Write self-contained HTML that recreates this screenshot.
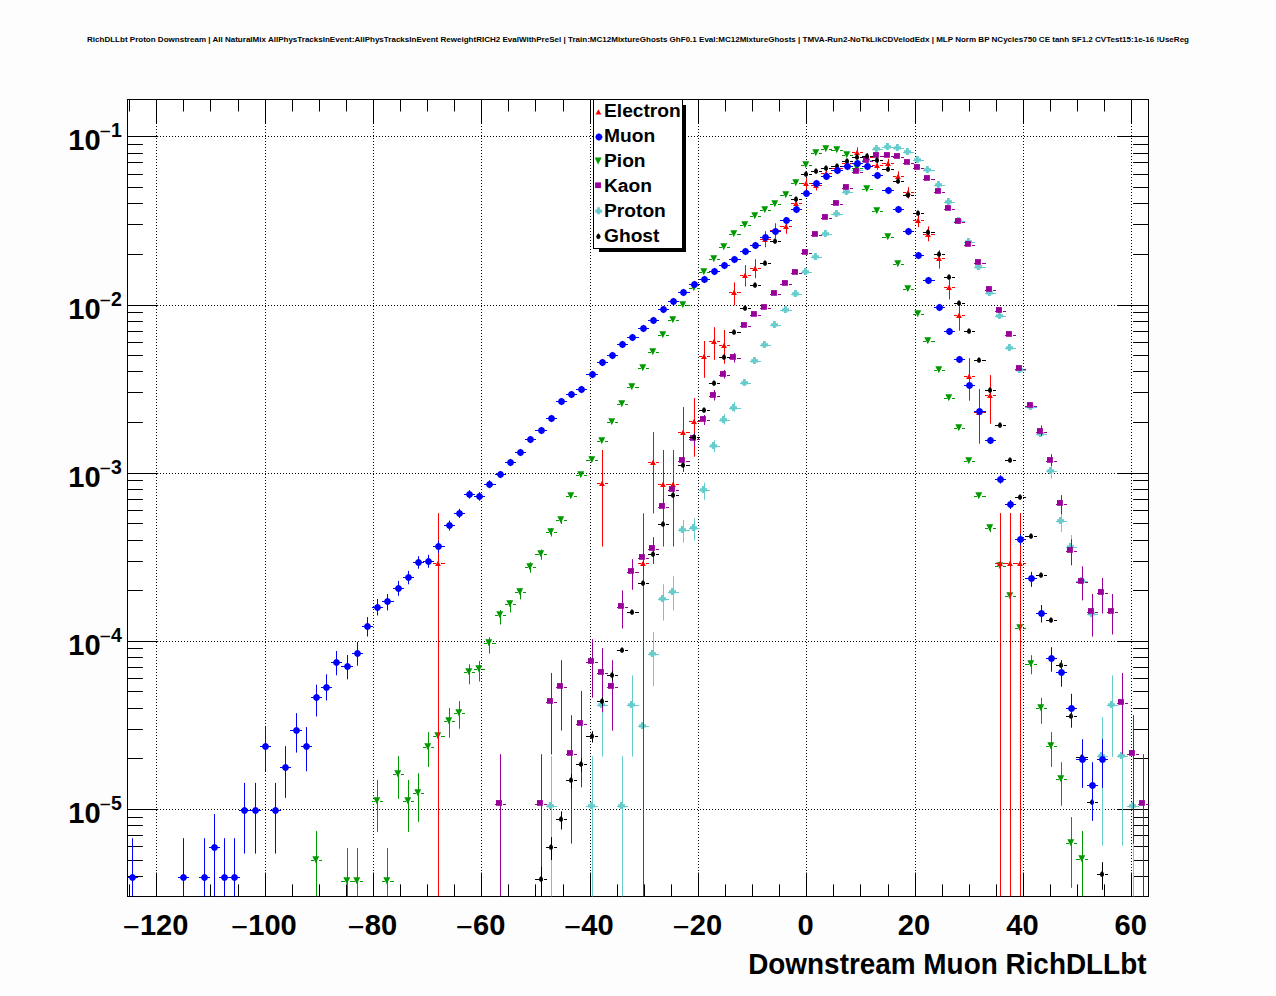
<!DOCTYPE html><html><head><meta charset="utf-8"><title>RichDLLbt Proton Downstream</title><style>html,body{margin:0;padding:0;background:#fff;}svg{display:block;}text{font-family:'Liberation Sans', Arial, Helvetica, sans-serif;font-weight:bold;fill:#000;}</style></head><body>
<svg width="1276" height="996" viewBox="0 0 1276 996">
<rect x="0" y="0" width="1276" height="996" fill="#fdfdfd"/>
<rect x="127.6" y="99.6" width="1020.8" height="796.8" fill="#fff"/>
<text x="638" y="42.3" font-size="7.9" text-anchor="middle" textLength="1102" lengthAdjust="spacingAndGlyphs">RichDLLbt Proton Downstream | All NaturalMix AllPhysTracksInEvent:AllPhysTracksInEvent ReweightRICH2 EvalWithPreSel | Train:MC12MixtureGhosts GhF0.1 Eval:MC12MixtureGhosts | TMVA-Run2-NoTkLikCDVelodEdx | MLP Norm BP NCycles750 CE tanh SF1.2 CVTest15:1e-16 !UseReg</text>
<path d="M156.5 99V896M265.5 99V896M373.5 99V896M481.5 99V896M590.5 99V896M698.5 99V896M806.5 99V896M915.5 99V896M1023.5 99V896M1131.5 99V896M127 809.5H1148M127 641.5H1148M127 473.5H1148M127 305.5H1148M127 136.5H1148" stroke="#000" stroke-width="1" stroke-dasharray="1 2" fill="none"/>
<path d="M129.5 896.4V884.4M129.5 99.6V111.5M156.5 896.4V872.5M156.5 99.6V123.5M183.5 896.4V884.4M183.5 99.6V111.5M210.5 896.4V884.4M210.5 99.6V111.5M238.5 896.4V884.4M238.5 99.6V111.5M265.5 896.4V872.5M265.5 99.6V123.5M292.5 896.4V884.4M292.5 99.6V111.5M319.5 896.4V884.4M319.5 99.6V111.5M346.5 896.4V884.4M346.5 99.6V111.5M373.5 896.4V872.5M373.5 99.6V123.5M400.5 896.4V884.4M400.5 99.6V111.5M427.5 896.4V884.4M427.5 99.6V111.5M454.5 896.4V884.4M454.5 99.6V111.5M481.5 896.4V872.5M481.5 99.6V123.5M508.5 896.4V884.4M508.5 99.6V111.5M535.5 896.4V884.4M535.5 99.6V111.5M563.5 896.4V884.4M563.5 99.6V111.5M590.5 896.4V872.5M590.5 99.6V123.5M617.5 896.4V884.4M617.5 99.6V111.5M644.5 896.4V884.4M644.5 99.6V111.5M671.5 896.4V884.4M671.5 99.6V111.5M698.5 896.4V872.5M698.5 99.6V123.5M725.5 896.4V884.4M725.5 99.6V111.5M752.5 896.4V884.4M752.5 99.6V111.5M779.5 896.4V884.4M779.5 99.6V111.5M806.5 896.4V872.5M806.5 99.6V123.5M833.5 896.4V884.4M833.5 99.6V111.5M860.5 896.4V884.4M860.5 99.6V111.5M888.5 896.4V884.4M888.5 99.6V111.5M915.5 896.4V872.5M915.5 99.6V123.5M942.5 896.4V884.4M942.5 99.6V111.5M969.5 896.4V884.4M969.5 99.6V111.5M996.5 896.4V884.4M996.5 99.6V111.5M1023.5 896.4V872.5M1023.5 99.6V123.5M1050.5 896.4V884.4M1050.5 99.6V111.5M1077.5 896.4V884.4M1077.5 99.6V111.5M1104.5 896.4V884.4M1104.5 99.6V111.5M1131.5 896.4V872.5M1131.5 99.6V123.5M127.6 876.5H142.9M1148.4 876.5H1133.1M127.6 860.5H142.9M1148.4 860.5H1133.1M127.6 846.5H142.9M1148.4 846.5H1133.1M127.6 835.5H142.9M1148.4 835.5H1133.1M127.6 825.5H142.9M1148.4 825.5H1133.1M127.6 817.5H142.9M1148.4 817.5H1133.1M127.6 809.5H158.2M1148.4 809.5H1117.8M127.6 758.5H142.9M1148.4 758.5H1133.1M127.6 729.5H142.9M1148.4 729.5H1133.1M127.6 708.5H142.9M1148.4 708.5H1133.1M127.6 691.5H142.9M1148.4 691.5H1133.1M127.6 678.5H142.9M1148.4 678.5H1133.1M127.6 667.5H142.9M1148.4 667.5H1133.1M127.6 657.5H142.9M1148.4 657.5H1133.1M127.6 648.5H142.9M1148.4 648.5H1133.1M127.6 641.5H158.2M1148.4 641.5H1117.8M127.6 590.5H142.9M1148.4 590.5H1133.1M127.6 561.5H142.9M1148.4 561.5H1133.1M127.6 540.5H142.9M1148.4 540.5H1133.1M127.6 523.5H142.9M1148.4 523.5H1133.1M127.6 510.5H142.9M1148.4 510.5H1133.1M127.6 499.5H142.9M1148.4 499.5H1133.1M127.6 489.5H142.9M1148.4 489.5H1133.1M127.6 480.5H142.9M1148.4 480.5H1133.1M127.6 473.5H158.2M1148.4 473.5H1117.8M127.6 422.5H142.9M1148.4 422.5H1133.1M127.6 392.5H142.9M1148.4 392.5H1133.1M127.6 371.5H142.9M1148.4 371.5H1133.1M127.6 355.5H142.9M1148.4 355.5H1133.1M127.6 342.5H142.9M1148.4 342.5H1133.1M127.6 331.5H142.9M1148.4 331.5H1133.1M127.6 321.5H142.9M1148.4 321.5H1133.1M127.6 312.5H142.9M1148.4 312.5H1133.1M127.6 305.5H158.2M1148.4 305.5H1117.8M127.6 254.5H142.9M1148.4 254.5H1133.1M127.6 224.5H142.9M1148.4 224.5H1133.1M127.6 203.5H142.9M1148.4 203.5H1133.1M127.6 187.5H142.9M1148.4 187.5H1133.1M127.6 174.5H142.9M1148.4 174.5H1133.1M127.6 162.5H142.9M1148.4 162.5H1133.1M127.6 153.5H142.9M1148.4 153.5H1133.1M127.6 144.5H142.9M1148.4 144.5H1133.1M127.6 136.5H158.2M1148.4 136.5H1117.8" stroke="#000" stroke-width="1" fill="none"/>
<rect x="127.5" y="99.5" width="1021" height="797" stroke="#000" stroke-width="1" fill="none"/>
<clipPath id="fr"><rect x="127" y="99" width="1022" height="798"/></clipPath>
<g clip-path="url(#fr)">
<path d="M546 806.5H549M554 806.5H557M551.5 756.2V896.4M586 806.5H590M595 806.5H598M592.5 756.2V896.4M597 705.5H600M605 705.5H608M602.5 675.3V756.6M617 806.5H620M625 806.5H628M622.5 756.2V896.4M627 705.5H630M635 705.5H639M632.5 675.3V756.7M638 726.5H641M646 726.5H649M643.5 706V748M648 654.5H651M656 654.5H659M653.5 632.1V686.3M658 599.5H661M666 599.5H669M663.5 584.3V620.5M668 592.5H671M676 592.5H679M673.5 576.3V610.4M678 530.5H681M686 530.5H690M683.5 520.1V542.6M689 528.5H692M697 528.5H700M694.5 518.3V540.5M699 490.5H702M707 490.5H710M704.5 482.5V499.8M709 446.5H712M717 446.5H720M714.5 440.3V452.4M719 420.5H722M727 420.5H730M724.5 414V424.5M729 408.5H732M737 408.5H741M734.5 402V412M740 383.5H743M748 383.5H751M750 361.5H753M758 361.5H761M760 345.5H763M768 345.5H771M770 325.5H773M778 325.5H781M780 310.5H784M789 310.5H792M791 294.5H794M799 294.5H802M801 272.5H804M809 272.5H812M811 257.5H814M819 257.5H822M821 234.5H824M829 234.5H832M831 214.5H835M840 214.5H843M842 192.5H845M850 192.5H853M852 170.5H855M860 170.5H863M862 160.5H865M870 160.5H873M872 149.5H875M880 149.5H883M882 147.5H886M891 147.5H894M893 148.5H896M901 148.5H904M903 152.5H906M911 152.5H914M913 160.5H916M921 160.5H924M923 170.5H926M931 170.5H935M934 185.5H937M942 185.5H945M944 202.5H947M952 202.5H955M954 221.5H957M962 221.5H965M964 242.5H967M972 242.5H975M974 267.5H977M982 267.5H986M985 293.5H988M993 293.5H996M995 316.5H998M1003 316.5H1006M1005 348.5H1008M1013 348.5H1016M1015 370.5H1018M1023 370.5H1026M1025 407.5H1029M1034 407.5H1037M1036 434.5H1039M1044 434.5H1047M1046 471.5H1049M1054 471.5H1057M1051.5 462.5V478.6M1056 521.5H1059M1064 521.5H1067M1061.5 512V532.1M1066 547.5H1069M1074 547.5H1077M1071.5 535.1V558M1076 581.5H1080M1085 581.5H1088M1082.5 570V591M1087 614.5H1090M1095 614.5H1098M1092.5 603V636.5M1097 756.5H1100M1105 756.5H1108M1102.5 717.1V845.6M1107 705.5H1110M1115 705.5H1118M1112.5 675.3V756.8M1117 756.5H1120M1125 756.5H1128M1122.5 717.1V845.6M1127 806.5H1131M1136 806.5H1139M1133.5 756.2V896.4" stroke="#66cccc" stroke-width="1" fill="none"/><g fill="#66cccc"><path d="M549 802.1h2.8v2.1h2.2v3.4h-2.2v1.4h-2.8v-1.4h-1.9v-3.4h1.9Z"/><path d="M590 802.1h2.8v2.1h2.2v3.4h-2.2v1.4h-2.8v-1.4h-1.9v-3.4h1.9Z"/><path d="M600 701.1h2.8v2.1h2.2v3.4h-2.2v1.4h-2.8v-1.4h-1.9v-3.4h1.9Z"/><path d="M620 802.1h2.8v2.1h2.2v3.4h-2.2v1.4h-2.8v-1.4h-1.9v-3.4h1.9Z"/><path d="M630 701.1h2.8v2.1h2.2v3.4h-2.2v1.4h-2.8v-1.4h-1.9v-3.4h1.9Z"/><path d="M641 722.1h2.8v2.1h2.2v3.4h-2.2v1.4h-2.8v-1.4h-1.9v-3.4h1.9Z"/><path d="M651 650.1h2.8v2.1h2.2v3.4h-2.2v1.4h-2.8v-1.4h-1.9v-3.4h1.9Z"/><path d="M661 595.1h2.8v2.1h2.2v3.4h-2.2v1.4h-2.8v-1.4h-1.9v-3.4h1.9Z"/><path d="M671 588.1h2.8v2.1h2.2v3.4h-2.2v1.4h-2.8v-1.4h-1.9v-3.4h1.9Z"/><path d="M681 526.1h2.8v2.1h2.2v3.4h-2.2v1.4h-2.8v-1.4h-1.9v-3.4h1.9Z"/><path d="M692 524.1h2.8v2.1h2.2v3.4h-2.2v1.4h-2.8v-1.4h-1.9v-3.4h1.9Z"/><path d="M702 486.1h2.8v2.1h2.2v3.4h-2.2v1.4h-2.8v-1.4h-1.9v-3.4h1.9Z"/><path d="M712 442.1h2.8v2.1h2.2v3.4h-2.2v1.4h-2.8v-1.4h-1.9v-3.4h1.9Z"/><path d="M722 416.1h2.8v2.1h2.2v3.4h-2.2v1.4h-2.8v-1.4h-1.9v-3.4h1.9Z"/><path d="M732 404.1h2.8v2.1h2.2v3.4h-2.2v1.4h-2.8v-1.4h-1.9v-3.4h1.9Z"/><path d="M743 379.1h2.8v2.1h2.2v3.4h-2.2v1.4h-2.8v-1.4h-1.9v-3.4h1.9Z"/><path d="M753 357.1h2.8v2.1h2.2v3.4h-2.2v1.4h-2.8v-1.4h-1.9v-3.4h1.9Z"/><path d="M763 341.1h2.8v2.1h2.2v3.4h-2.2v1.4h-2.8v-1.4h-1.9v-3.4h1.9Z"/><path d="M773 321.1h2.8v2.1h2.2v3.4h-2.2v1.4h-2.8v-1.4h-1.9v-3.4h1.9Z"/><path d="M784 306.1h2.8v2.1h2.2v3.4h-2.2v1.4h-2.8v-1.4h-1.9v-3.4h1.9Z"/><path d="M794 290.1h2.8v2.1h2.2v3.4h-2.2v1.4h-2.8v-1.4h-1.9v-3.4h1.9Z"/><path d="M804 268.1h2.8v2.1h2.2v3.4h-2.2v1.4h-2.8v-1.4h-1.9v-3.4h1.9Z"/><path d="M814 253.1h2.8v2.1h2.2v3.4h-2.2v1.4h-2.8v-1.4h-1.9v-3.4h1.9Z"/><path d="M824 230.1h2.8v2.1h2.2v3.4h-2.2v1.4h-2.8v-1.4h-1.9v-3.4h1.9Z"/><path d="M835 210.1h2.8v2.1h2.2v3.4h-2.2v1.4h-2.8v-1.4h-1.9v-3.4h1.9Z"/><path d="M845 188.1h2.8v2.1h2.2v3.4h-2.2v1.4h-2.8v-1.4h-1.9v-3.4h1.9Z"/><path d="M855 166.1h2.8v2.1h2.2v3.4h-2.2v1.4h-2.8v-1.4h-1.9v-3.4h1.9Z"/><path d="M865 156.1h2.8v2.1h2.2v3.4h-2.2v1.4h-2.8v-1.4h-1.9v-3.4h1.9Z"/><path d="M875 145.1h2.8v2.1h2.2v3.4h-2.2v1.4h-2.8v-1.4h-1.9v-3.4h1.9Z"/><path d="M886 143.1h2.8v2.1h2.2v3.4h-2.2v1.4h-2.8v-1.4h-1.9v-3.4h1.9Z"/><path d="M896 144.1h2.8v2.1h2.2v3.4h-2.2v1.4h-2.8v-1.4h-1.9v-3.4h1.9Z"/><path d="M906 148.1h2.8v2.1h2.2v3.4h-2.2v1.4h-2.8v-1.4h-1.9v-3.4h1.9Z"/><path d="M916 156.1h2.8v2.1h2.2v3.4h-2.2v1.4h-2.8v-1.4h-1.9v-3.4h1.9Z"/><path d="M926 166.1h2.8v2.1h2.2v3.4h-2.2v1.4h-2.8v-1.4h-1.9v-3.4h1.9Z"/><path d="M937 181.1h2.8v2.1h2.2v3.4h-2.2v1.4h-2.8v-1.4h-1.9v-3.4h1.9Z"/><path d="M947 198.1h2.8v2.1h2.2v3.4h-2.2v1.4h-2.8v-1.4h-1.9v-3.4h1.9Z"/><path d="M957 217.1h2.8v2.1h2.2v3.4h-2.2v1.4h-2.8v-1.4h-1.9v-3.4h1.9Z"/><path d="M967 238.1h2.8v2.1h2.2v3.4h-2.2v1.4h-2.8v-1.4h-1.9v-3.4h1.9Z"/><path d="M977 263.1h2.8v2.1h2.2v3.4h-2.2v1.4h-2.8v-1.4h-1.9v-3.4h1.9Z"/><path d="M988 289.1h2.8v2.1h2.2v3.4h-2.2v1.4h-2.8v-1.4h-1.9v-3.4h1.9Z"/><path d="M998 312.1h2.8v2.1h2.2v3.4h-2.2v1.4h-2.8v-1.4h-1.9v-3.4h1.9Z"/><path d="M1008 344.1h2.8v2.1h2.2v3.4h-2.2v1.4h-2.8v-1.4h-1.9v-3.4h1.9Z"/><path d="M1018 366.1h2.8v2.1h2.2v3.4h-2.2v1.4h-2.8v-1.4h-1.9v-3.4h1.9Z"/><path d="M1029 403.1h2.8v2.1h2.2v3.4h-2.2v1.4h-2.8v-1.4h-1.9v-3.4h1.9Z"/><path d="M1039 430.1h2.8v2.1h2.2v3.4h-2.2v1.4h-2.8v-1.4h-1.9v-3.4h1.9Z"/><path d="M1049 467.1h2.8v2.1h2.2v3.4h-2.2v1.4h-2.8v-1.4h-1.9v-3.4h1.9Z"/><path d="M1059 517.1h2.8v2.1h2.2v3.4h-2.2v1.4h-2.8v-1.4h-1.9v-3.4h1.9Z"/><path d="M1069 543.1h2.8v2.1h2.2v3.4h-2.2v1.4h-2.8v-1.4h-1.9v-3.4h1.9Z"/><path d="M1080 577.1h2.8v2.1h2.2v3.4h-2.2v1.4h-2.8v-1.4h-1.9v-3.4h1.9Z"/><path d="M1090 610.1h2.8v2.1h2.2v3.4h-2.2v1.4h-2.8v-1.4h-1.9v-3.4h1.9Z"/><path d="M1100 752.1h2.8v2.1h2.2v3.4h-2.2v1.4h-2.8v-1.4h-1.9v-3.4h1.9Z"/><path d="M1110 701.1h2.8v2.1h2.2v3.4h-2.2v1.4h-2.8v-1.4h-1.9v-3.4h1.9Z"/><path d="M1120 752.1h2.8v2.1h2.2v3.4h-2.2v1.4h-2.8v-1.4h-1.9v-3.4h1.9Z"/><path d="M1131 802.1h2.8v2.1h2.2v3.4h-2.2v1.4h-2.8v-1.4h-1.9v-3.4h1.9Z"/></g>
<path d="M311 860.5H314M319 860.5H322M316.5 830.9V896.4M341 881.5H345M350 881.5H353M347.5 848V896.4M352 881.5H355M360 881.5H363M357.5 848V896.4M372 801.5H375M380 801.5H383M377.5 779.9V831.9M382 881.5H385M390 881.5H394M387.5 848V896.4M393 774.5H396M401 774.5H404M398.5 756.2V798.8M403 801.5H406M411 801.5H414M408.5 779.9V831.9M413 793.5H416M421 793.5H424M418.5 773.3V821.9M423 747.5H426M431 747.5H434M428.5 732.1V766.9M433 736.5H436M441 736.5H445M438.5 721.5V752.5M444 721.5H447M452 721.5H455M449.5 708V737.8M454 713.5H457M462 713.5H465M459.5 701V728.7M464 672.5H467M472 672.5H475M469.5 664.3V684.3M474 669.5H477M482 669.5H485M479.5 661V681.5M484 643.5H487M492 643.5H496M489.5 637.4V653.7M495 615.5H498M503 615.5H506M500.5 610V624.5M505 604.5H508M513 604.5H516M510.5 600.4V612.4M515 592.5H518M523 592.5H526M520.5 588.4V599.4M525 567.5H528M533 567.5H536M530.5 562.2V572.7M535 554.5H539M544 554.5H547M541.5 549.5V559.8M546 532.5H549M554 532.5H557M551.5 528V536.5M556 520.5H559M564 520.5H567M561.5 517.1V524M566 496.5H569M574 496.5H577M576 475.5H579M584 475.5H587M586 460.5H590M595 460.5H598M597 441.5H600M605 441.5H608M607 422.5H610M615 422.5H618M617 404.5H620M625 404.5H628M627 387.5H630M635 387.5H639M638 368.5H641M646 368.5H649M648 352.5H651M656 352.5H659M658 335.5H661M666 335.5H669M668 320.5H671M676 320.5H679M678 305.5H681M686 305.5H690M689 288.5H692M697 288.5H700M699 272.5H702M707 272.5H710M709 259.5H712M717 259.5H720M719 247.5H722M727 247.5H730M729 234.5H732M737 234.5H741M740 225.5H743M748 225.5H751M750 216.5H753M758 216.5H761M760 210.5H763M768 210.5H771M770 204.5H773M778 204.5H781M780 195.5H784M789 195.5H792M791 183.5H794M799 183.5H802M801 165.5H804M809 165.5H812M811 153.5H814M819 153.5H822M821 149.5H824M829 149.5H832M831 150.5H835M840 150.5H843M842 155.5H845M850 155.5H853M852 168.5H855M860 168.5H863M862 189.5H865M870 189.5H873M872 211.5H875M880 211.5H883M882 237.5H886M891 237.5H894M893 264.5H896M901 264.5H904M903 289.5H906M911 289.5H914M913 314.5H916M921 314.5H924M923 341.5H926M931 341.5H935M934 370.5H937M942 370.5H945M944 398.5H947M952 398.5H955M954 428.5H957M962 428.5H965M964 461.5H967M972 461.5H975M974 496.5H977M982 496.5H986M985 528.5H988M993 528.5H996M990.5 524.5V532.1M995 566.5H998M1003 566.5H1006M1005 596.5H1008M1013 596.5H1016M1015 628.5H1018M1023 628.5H1026M1025 664.5H1029M1034 664.5H1037M1031.5 655.2V674.3M1036 708.5H1039M1044 708.5H1047M1041.5 697.8V723.7M1046 746.5H1049M1054 746.5H1057M1051.5 732.1V766.9M1056 779.5H1059M1064 779.5H1067M1061.5 762.2V805.8M1066 843.5H1069M1074 843.5H1077M1071.5 817.1V887.8M1076 859.5H1080M1085 859.5H1088M1082.5 830.9V896.4" stroke="#009900" stroke-width="1" fill="none"/><g fill="#009900"><path d="M312.3 856.2H319.2L315.8 863.2Z"/><path d="M343.3 877.2H350.2L346.8 884.2Z"/><path d="M353.3 877.2H360.2L356.8 884.2Z"/><path d="M373.3 797.2H380.2L376.8 804.2Z"/><path d="M383.3 877.2H390.2L386.8 884.2Z"/><path d="M394.3 770.2H401.2L397.8 777.2Z"/><path d="M404.3 797.2H411.2L407.8 804.2Z"/><path d="M414.3 789.2H421.2L417.8 796.2Z"/><path d="M424.3 743.2H431.2L427.8 750.2Z"/><path d="M434.3 732.2H441.2L437.8 739.2Z"/><path d="M445.3 717.2H452.2L448.8 724.2Z"/><path d="M455.3 709.2H462.2L458.8 716.2Z"/><path d="M465.3 668.2H472.2L468.8 675.2Z"/><path d="M475.3 665.2H482.2L478.8 672.2Z"/><path d="M485.3 639.2H492.2L488.8 646.2Z"/><path d="M496.3 611.2H503.2L499.8 618.2Z"/><path d="M506.3 600.2H513.2L509.8 607.2Z"/><path d="M516.3 588.2H523.2L519.8 595.2Z"/><path d="M526.3 563.2H533.2L529.8 570.2Z"/><path d="M537.3 550.2H544.2L540.8 557.2Z"/><path d="M547.3 528.2H554.2L550.8 535.2Z"/><path d="M557.3 516.2H564.2L560.8 523.2Z"/><path d="M567.3 492.2H574.2L570.8 499.2Z"/><path d="M577.3 471.2H584.2L580.8 478.2Z"/><path d="M588.3 456.2H595.2L591.8 463.2Z"/><path d="M598.3 437.2H605.2L601.8 444.2Z"/><path d="M608.3 418.2H615.2L611.8 425.2Z"/><path d="M618.3 400.2H625.2L621.8 407.2Z"/><path d="M628.3 383.2H635.2L631.8 390.2Z"/><path d="M639.3 364.2H646.2L642.8 371.2Z"/><path d="M649.3 348.2H656.2L652.8 355.2Z"/><path d="M659.3 331.2H666.2L662.8 338.2Z"/><path d="M669.3 316.2H676.2L672.8 323.2Z"/><path d="M679.3 301.2H686.2L682.8 308.2Z"/><path d="M690.3 284.2H697.2L693.8 291.2Z"/><path d="M700.3 268.2H707.2L703.8 275.2Z"/><path d="M710.3 255.2H717.2L713.8 262.2Z"/><path d="M720.3 243.2H727.2L723.8 250.2Z"/><path d="M730.3 230.2H737.2L733.8 237.2Z"/><path d="M741.3 221.2H748.2L744.8 228.2Z"/><path d="M751.3 212.2H758.2L754.8 219.2Z"/><path d="M761.3 206.2H768.2L764.8 213.2Z"/><path d="M771.3 200.2H778.2L774.8 207.2Z"/><path d="M782.3 191.2H789.2L785.8 198.2Z"/><path d="M792.3 179.2H799.2L795.8 186.2Z"/><path d="M802.3 161.2H809.2L805.8 168.2Z"/><path d="M812.3 149.2H819.2L815.8 156.2Z"/><path d="M822.3 145.2H829.2L825.8 152.2Z"/><path d="M833.3 146.2H840.2L836.8 153.2Z"/><path d="M843.3 151.2H850.2L846.8 158.2Z"/><path d="M853.3 164.2H860.2L856.8 171.2Z"/><path d="M863.3 185.2H870.2L866.8 192.2Z"/><path d="M873.3 207.2H880.2L876.8 214.2Z"/><path d="M884.3 233.2H891.2L887.8 240.2Z"/><path d="M894.3 260.2H901.2L897.8 267.2Z"/><path d="M904.3 285.2H911.2L907.8 292.2Z"/><path d="M914.3 310.2H921.2L917.8 317.2Z"/><path d="M924.3 337.2H931.2L927.8 344.2Z"/><path d="M935.3 366.2H942.2L938.8 373.2Z"/><path d="M945.3 394.2H952.2L948.8 401.2Z"/><path d="M955.3 424.2H962.2L958.8 431.2Z"/><path d="M965.3 457.2H972.2L968.8 464.2Z"/><path d="M975.3 492.2H982.2L978.8 499.2Z"/><path d="M986.3 524.2H993.2L989.8 531.2Z"/><path d="M996.3 562.2H1003.2L999.8 569.2Z"/><path d="M1006.3 592.2H1013.2L1009.8 599.2Z"/><path d="M1016.3 624.2H1023.2L1019.8 631.2Z"/><path d="M1027.3 660.2H1034.2L1030.8 667.2Z"/><path d="M1037.3 704.2H1044.2L1040.8 711.2Z"/><path d="M1047.3 742.2H1054.2L1050.8 749.2Z"/><path d="M1057.3 775.2H1064.2L1060.8 782.2Z"/><path d="M1067.3 839.2H1074.2L1070.8 846.2Z"/><path d="M1078.3 855.2H1085.2L1081.8 862.2Z"/></g>
<path d="M433 563.5H436M441 563.5H445M438.5 513.1V896.4M597 483.5H600M605 483.5H608M602.5 450V546.5M638 563.5H641M646 563.5H649M643.5 513.3V896.4M648 462.5H651M656 462.5H659M653.5 432.1V513.4M658 484.5H661M666 484.5H669M663.5 450V546.5M668 484.5H671M676 484.5H679M673.5 450V546.5M678 432.5H681M686 432.5H690M683.5 407V472M689 421.5H692M697 421.5H700M694.5 398.1V456.7M699 356.5H702M707 356.5H710M704.5 341V377.8M709 341.5H712M717 341.5H720M714.5 327.2V359.9M719 345.5H722M727 345.5H730M724.5 330V363.7M729 292.5H732M737 292.5H741M734.5 282.3V305.3M740 275.5H743M748 275.5H751M745.5 265.1V286.5M750 268.5H753M758 268.5H761M755.5 259.1V278.2M760 239.5H763M768 239.5H771M765.5 231.2V247.3M770 230.5H773M778 230.5H781M775.5 223.3V238.3M780 226.5H784M789 226.5H792M786.5 219.5V233.8M791 203.5H794M799 203.5H802M796.5 197V209.5M801 183.5H804M809 183.5H812M806.5 178.2V189.2M811 185.5H814M819 185.5H822M816.5 180V190.5M821 173.5H824M829 173.5H832M826.5 169V178M831 168.5H835M840 168.5H843M837.5 164.5V173.5M842 163.5H845M850 163.5H853M847.5 159.5V168.5M852 152.5H855M860 152.5H863M857.5 147.3V157.2M862 157.5H865M870 157.5H873M867.5 153V162.8M872 165.5H875M880 165.5H883M877.5 161V169.8M882 163.5H886M891 163.5H894M888.5 158.8V168M893 176.5H896M901 176.5H904M898.5 171.4V181.6M903 192.5H906M911 192.5H914M908.5 187.2V198.5M913 220.5H916M921 220.5H924M918.5 214.8V227.1M923 234.5H926M931 234.5H935M928.5 226.3V241.3M934 258.5H937M942 258.5H945M939.5 250.2V268.6M944 287.5H947M952 287.5H955M949.5 279.8V299.5M954 315.5H957M962 315.5H965M959.5 305.1V330.7M964 376.5H967M972 376.5H975M969.5 358.1V400.7M974 412.5H977M982 412.5H986M979.5 389V443.7M985 395.5H988M993 395.5H996M990.5 375.1V423.7M995 563.5H998M1003 563.5H1006M1000.5 513.1V896.4M1005 563.5H1008M1013 563.5H1016M1010.5 513.1V896.4M1015 563.5H1018M1023 563.5H1026M1020.5 513.1V896.4" stroke="#ff0000" stroke-width="1" fill="none"/><g fill="#ff0000"><path d="M435.1 566H440.9L438 560.7Z"/><path d="M599.1 486H604.9L602 480.7Z"/><path d="M640.1 566H645.9L643 560.7Z"/><path d="M650.1 465H655.9L653 459.7Z"/><path d="M660.1 487H665.9L663 481.7Z"/><path d="M670.1 487H675.9L673 481.7Z"/><path d="M680.1 435H685.9L683 429.7Z"/><path d="M691.1 424H696.9L694 418.7Z"/><path d="M701.1 359H706.9L704 353.7Z"/><path d="M711.1 344H716.9L714 338.7Z"/><path d="M721.1 348H726.9L724 342.7Z"/><path d="M731.1 295H736.9L734 289.7Z"/><path d="M742.1 278H747.9L745 272.7Z"/><path d="M752.1 271H757.9L755 265.7Z"/><path d="M762.1 242H767.9L765 236.7Z"/><path d="M772.1 233H777.9L775 227.7Z"/><path d="M783.1 229H788.9L786 223.7Z"/><path d="M793.1 206H798.9L796 200.7Z"/><path d="M803.1 186H808.9L806 180.7Z"/><path d="M813.1 188H818.9L816 182.7Z"/><path d="M823.1 176H828.9L826 170.7Z"/><path d="M834.1 171H839.9L837 165.7Z"/><path d="M844.1 166H849.9L847 160.7Z"/><path d="M854.1 155H859.9L857 149.7Z"/><path d="M864.1 160H869.9L867 154.7Z"/><path d="M874.1 168H879.9L877 162.7Z"/><path d="M885.1 166H890.9L888 160.7Z"/><path d="M895.1 179H900.9L898 173.7Z"/><path d="M905.1 195H910.9L908 189.7Z"/><path d="M915.1 223H920.9L918 217.7Z"/><path d="M925.1 237H930.9L928 231.7Z"/><path d="M936.1 261H941.9L939 255.7Z"/><path d="M946.1 290H951.9L949 284.7Z"/><path d="M956.1 318H961.9L959 312.7Z"/><path d="M966.1 379H971.9L969 373.7Z"/><path d="M976.1 415H981.9L979 409.7Z"/><path d="M987.1 398H992.9L990 392.7Z"/><path d="M997.1 566H1002.9L1000 560.7Z"/><path d="M1007.1 566H1012.9L1010 560.7Z"/><path d="M1017.1 566H1022.9L1020 560.7Z"/></g>
<path d="M495 804.5H498M503 804.5H506M500.5 754.2V896.4M535 804.5H539M544 804.5H547M541.5 754.2V896.4M546 702.5H549M554 702.5H557M551.5 672.9V754.5M556 687.5H559M564 687.5H567M561.5 660.2V730.6M566 754.5H569M574 754.5H577M571.5 715.2V843.6M576 724.5H579M584 724.5H587M581.5 690.9V787.3M586 662.5H590M595 662.5H598M592.5 639.2V697.6M597 673.5H600M605 673.5H608M602.5 648.2V712.2M607 687.5H610M615 687.5H618M612.5 660.3V730.7M617 607.5H620M625 607.5H628M622.5 590.4V628.5M627 572.5H630M635 572.5H639M632.5 559.2V589.8M638 558.5H641M646 558.5H649M643.5 546.2V574.3M648 549.5H651M656 549.5H659M653.5 537.2V563.9M658 507.5H661M666 507.5H669M663.5 498V518.9M668 490.5H671M676 490.5H679M673.5 482.5V496M678 461.5H681M686 461.5H690M683.5 454.6V471.2M689 439.5H692M697 439.5H700M694.5 433V446.4M699 420.5H702M707 420.5H710M704.5 415V425M709 396.5H712M717 396.5H720M714.5 390V400.5M719 375.5H722M727 375.5H730M724.5 370V378.5M729 358.5H732M737 358.5H741M734.5 353V362.5M740 326.5H743M748 326.5H751M750 315.5H753M758 315.5H761M760 308.5H763M768 308.5H771M770 294.5H773M778 294.5H781M780 284.5H784M789 284.5H792M791 273.5H794M799 273.5H802M801 253.5H804M809 253.5H812M811 235.5H814M819 235.5H822M821 218.5H824M829 218.5H832M831 204.5H835M840 204.5H843M842 188.5H845M850 188.5H853M852 172.5H855M860 172.5H863M862 161.5H865M870 161.5H873M872 156.5H875M880 156.5H883M882 156.5H886M891 156.5H894M893 157.5H896M901 157.5H904M903 163.5H906M911 163.5H914M913 168.5H916M921 168.5H924M923 179.5H926M931 179.5H935M934 192.5H937M942 192.5H945M944 209.5H947M952 209.5H955M954 222.5H957M962 222.5H965M964 245.5H967M972 245.5H975M974 263.5H977M982 263.5H986M985 290.5H988M993 290.5H996M995 311.5H998M1003 311.5H1006M1005 335.5H1008M1013 335.5H1016M1015 369.5H1018M1023 369.5H1026M1025 406.5H1029M1034 406.5H1037M1036 432.5H1039M1044 432.5H1047M1041.5 425.5V436M1046 461.5H1049M1054 461.5H1057M1051.5 454.2V466M1056 504.5H1059M1064 504.5H1067M1061.5 495.2V514M1066 551.5H1069M1074 551.5H1077M1071.5 539.2V565.3M1076 582.5H1080M1085 582.5H1088M1082.5 566.3V600.4M1087 612.5H1090M1095 612.5H1098M1092.5 594V636.5M1097 593.5H1100M1105 593.5H1108M1102.5 577.9V613.5M1107 612.5H1110M1115 612.5H1118M1112.5 594V634.5M1117 703.5H1120M1125 703.5H1128M1122.5 673.1V754.2M1127 754.5H1131M1136 754.5H1139M1133.5 715.1V843.6M1138 804.5H1141M1146 804.5H1149M1143.5 754.2V896.4" stroke="#990099" stroke-width="1" fill="none"/><g fill="#990099"><rect x="496" y="800.1" width="5.9" height="5.7"/><rect x="537" y="800.1" width="5.9" height="5.7"/><rect x="547" y="698.1" width="5.9" height="5.7"/><rect x="557" y="683.1" width="5.9" height="5.7"/><rect x="567" y="750.1" width="5.9" height="5.7"/><rect x="577" y="720.1" width="5.9" height="5.7"/><rect x="588" y="658.1" width="5.9" height="5.7"/><rect x="598" y="669.1" width="5.9" height="5.7"/><rect x="608" y="683.1" width="5.9" height="5.7"/><rect x="618" y="603.1" width="5.9" height="5.7"/><rect x="628" y="568.1" width="5.9" height="5.7"/><rect x="639" y="554.1" width="5.9" height="5.7"/><rect x="649" y="545.1" width="5.9" height="5.7"/><rect x="659" y="503.1" width="5.9" height="5.7"/><rect x="669" y="486.1" width="5.9" height="5.7"/><rect x="679" y="457.1" width="5.9" height="5.7"/><rect x="690" y="435.1" width="5.9" height="5.7"/><rect x="700" y="416.1" width="5.9" height="5.7"/><rect x="710" y="392.1" width="5.9" height="5.7"/><rect x="720" y="371.1" width="5.9" height="5.7"/><rect x="730" y="354.1" width="5.9" height="5.7"/><rect x="741" y="322.1" width="5.9" height="5.7"/><rect x="751" y="311.1" width="5.9" height="5.7"/><rect x="761" y="304.1" width="5.9" height="5.7"/><rect x="771" y="290.1" width="5.9" height="5.7"/><rect x="782" y="280.1" width="5.9" height="5.7"/><rect x="792" y="269.1" width="5.9" height="5.7"/><rect x="802" y="249.1" width="5.9" height="5.7"/><rect x="812" y="231.1" width="5.9" height="5.7"/><rect x="822" y="214.1" width="5.9" height="5.7"/><rect x="833" y="200.1" width="5.9" height="5.7"/><rect x="843" y="184.1" width="5.9" height="5.7"/><rect x="853" y="168.1" width="5.9" height="5.7"/><rect x="863" y="157.1" width="5.9" height="5.7"/><rect x="873" y="152.1" width="5.9" height="5.7"/><rect x="884" y="152.1" width="5.9" height="5.7"/><rect x="894" y="153.1" width="5.9" height="5.7"/><rect x="904" y="159.1" width="5.9" height="5.7"/><rect x="914" y="164.1" width="5.9" height="5.7"/><rect x="924" y="175.1" width="5.9" height="5.7"/><rect x="935" y="188.1" width="5.9" height="5.7"/><rect x="945" y="205.1" width="5.9" height="5.7"/><rect x="955" y="218.1" width="5.9" height="5.7"/><rect x="965" y="241.1" width="5.9" height="5.7"/><rect x="975" y="259.1" width="5.9" height="5.7"/><rect x="986" y="286.1" width="5.9" height="5.7"/><rect x="996" y="307.1" width="5.9" height="5.7"/><rect x="1006" y="331.1" width="5.9" height="5.7"/><rect x="1016" y="365.1" width="5.9" height="5.7"/><rect x="1027" y="402.1" width="5.9" height="5.7"/><rect x="1037" y="428.1" width="5.9" height="5.7"/><rect x="1047" y="457.1" width="5.9" height="5.7"/><rect x="1057" y="500.1" width="5.9" height="5.7"/><rect x="1067" y="547.1" width="5.9" height="5.7"/><rect x="1078" y="578.1" width="5.9" height="5.7"/><rect x="1088" y="608.1" width="5.9" height="5.7"/><rect x="1098" y="589.1" width="5.9" height="5.7"/><rect x="1108" y="608.1" width="5.9" height="5.7"/><rect x="1118" y="699.1" width="5.9" height="5.7"/><rect x="1129" y="750.1" width="5.9" height="5.7"/><rect x="1139" y="800.1" width="5.9" height="5.7"/></g>
<path d="M535 879.5H539M544 879.5H547M541.5 866.7V896.4M546 847.5H549M554 847.5H557M551.5 837.1V860M556 819.5H559M564 819.5H567M561.5 811.4V829.5M566 780.5H569M574 780.5H577M571.5 773.9V788.8M576 764.5H579M584 764.5H587M581.5 758.2V771.7M586 736.5H590M595 736.5H598M592.5 731.1V742.6M597 701.5H600M605 701.5H608M602.5 697V706M607 675.5H610M615 675.5H618M612.5 671V680.7M617 650.5H620M625 650.5H628M627 612.5H630M635 612.5H639M638 583.5H641M646 583.5H649M648 554.5H651M656 554.5H659M658 524.5H661M666 524.5H669M668 495.5H671M676 495.5H679M678 465.5H681M686 465.5H690M689 437.5H692M697 437.5H700M699 410.5H702M707 410.5H710M709 383.5H712M717 383.5H720M719 357.5H722M727 357.5H730M729 332.5H732M737 332.5H741M740 308.5H743M748 308.5H751M750 285.5H753M758 285.5H761M760 263.5H763M768 263.5H771M770 241.5H773M778 241.5H781M780 220.5H784M789 220.5H792M791 199.5H794M799 199.5H802M801 174.5H804M809 174.5H812M811 171.5H814M819 171.5H822M821 168.5H824M829 168.5H832M831 166.5H835M840 166.5H843M842 161.5H845M850 161.5H853M852 157.5H855M860 157.5H863M862 156.5H865M870 156.5H873M872 160.5H875M880 160.5H883M882 169.5H886M891 169.5H894M893 181.5H896M901 181.5H904M903 195.5H906M911 195.5H914M913 213.5H916M921 213.5H924M923 232.5H926M931 232.5H935M934 254.5H937M942 254.5H945M944 277.5H947M952 277.5H955M954 303.5H957M962 303.5H965M964 331.5H967M972 331.5H975M974 360.5H977M982 360.5H986M985 390.5H988M993 390.5H996M995 425.5H998M1003 425.5H1006M1005 460.5H1008M1013 460.5H1016M1015 497.5H1018M1023 497.5H1026M1025 536.5H1029M1034 536.5H1037M1036 575.5H1039M1044 575.5H1047M1046 620.5H1049M1054 620.5H1057M1056 665.5H1059M1064 665.5H1067M1061.5 660.6V670M1066 716.5H1069M1074 716.5H1077M1071.5 712V720.5M1076 757.5H1080M1085 757.5H1088M1082.5 752V763M1087 802.5H1090M1095 802.5H1098M1092.5 796V809M1097 874.5H1100M1105 874.5H1108M1102.5 862.2V889.8" stroke="#000000" stroke-width="1" fill="none"/><g fill="#000000"><path d="M541 876.1L542.4 877.6L543.1 879.1L542.7 881.1L541 882.1L539.3 881.1L538.9 879.1L539.6 877.6Z"/><path d="M551 844.1L552.4 845.6L553.1 847.1L552.7 849.1L551 850.1L549.3 849.1L548.9 847.1L549.6 845.6Z"/><path d="M561 816.1L562.4 817.6L563.1 819.1L562.7 821.1L561 822.1L559.3 821.1L558.9 819.1L559.6 817.6Z"/><path d="M571 777.1L572.4 778.6L573.1 780.1L572.7 782.1L571 783.1L569.3 782.1L568.9 780.1L569.6 778.6Z"/><path d="M581 761.1L582.4 762.6L583.1 764.1L582.7 766.1L581 767.1L579.3 766.1L578.9 764.1L579.6 762.6Z"/><path d="M592 733.1L593.4 734.6L594.1 736.1L593.7 738.1L592 739.1L590.3 738.1L589.9 736.1L590.6 734.6Z"/><path d="M602 698.1L603.4 699.6L604.1 701.1L603.7 703.1L602 704.1L600.3 703.1L599.9 701.1L600.6 699.6Z"/><path d="M612 672.1L613.4 673.6L614.1 675.1L613.7 677.1L612 678.1L610.3 677.1L609.9 675.1L610.6 673.6Z"/><path d="M622 647.1L623.4 648.6L624.1 650.1L623.7 652.1L622 653.1L620.3 652.1L619.9 650.1L620.6 648.6Z"/><path d="M632 609.1L633.4 610.6L634.1 612.1L633.7 614.1L632 615.1L630.3 614.1L629.9 612.1L630.6 610.6Z"/><path d="M643 580.1L644.4 581.6L645.1 583.1L644.7 585.1L643 586.1L641.3 585.1L640.9 583.1L641.6 581.6Z"/><path d="M653 551.1L654.4 552.6L655.1 554.1L654.7 556.1L653 557.1L651.3 556.1L650.9 554.1L651.6 552.6Z"/><path d="M663 521.1L664.4 522.6L665.1 524.1L664.7 526.1L663 527.1L661.3 526.1L660.9 524.1L661.6 522.6Z"/><path d="M673 492.1L674.4 493.6L675.1 495.1L674.7 497.1L673 498.1L671.3 497.1L670.9 495.1L671.6 493.6Z"/><path d="M683 462.1L684.4 463.6L685.1 465.1L684.7 467.1L683 468.1L681.3 467.1L680.9 465.1L681.6 463.6Z"/><path d="M694 434.1L695.4 435.6L696.1 437.1L695.7 439.1L694 440.1L692.3 439.1L691.9 437.1L692.6 435.6Z"/><path d="M704 407.1L705.4 408.6L706.1 410.1L705.7 412.1L704 413.1L702.3 412.1L701.9 410.1L702.6 408.6Z"/><path d="M714 380.1L715.4 381.6L716.1 383.1L715.7 385.1L714 386.1L712.3 385.1L711.9 383.1L712.6 381.6Z"/><path d="M724 354.1L725.4 355.6L726.1 357.1L725.7 359.1L724 360.1L722.3 359.1L721.9 357.1L722.6 355.6Z"/><path d="M734 329.1L735.4 330.6L736.1 332.1L735.7 334.1L734 335.1L732.3 334.1L731.9 332.1L732.6 330.6Z"/><path d="M745 305.1L746.4 306.6L747.1 308.1L746.7 310.1L745 311.1L743.3 310.1L742.9 308.1L743.6 306.6Z"/><path d="M755 282.1L756.4 283.6L757.1 285.1L756.7 287.1L755 288.1L753.3 287.1L752.9 285.1L753.6 283.6Z"/><path d="M765 260.1L766.4 261.6L767.1 263.1L766.7 265.1L765 266.1L763.3 265.1L762.9 263.1L763.6 261.6Z"/><path d="M775 238.1L776.4 239.6L777.1 241.1L776.7 243.1L775 244.1L773.3 243.1L772.9 241.1L773.6 239.6Z"/><path d="M786 217.1L787.4 218.6L788.1 220.1L787.7 222.1L786 223.1L784.3 222.1L783.9 220.1L784.6 218.6Z"/><path d="M796 196.1L797.4 197.6L798.1 199.1L797.7 201.1L796 202.1L794.3 201.1L793.9 199.1L794.6 197.6Z"/><path d="M806 171.1L807.4 172.6L808.1 174.1L807.7 176.1L806 177.1L804.3 176.1L803.9 174.1L804.6 172.6Z"/><path d="M816 168.1L817.4 169.6L818.1 171.1L817.7 173.1L816 174.1L814.3 173.1L813.9 171.1L814.6 169.6Z"/><path d="M826 165.1L827.4 166.6L828.1 168.1L827.7 170.1L826 171.1L824.3 170.1L823.9 168.1L824.6 166.6Z"/><path d="M837 163.1L838.4 164.6L839.1 166.1L838.7 168.1L837 169.1L835.3 168.1L834.9 166.1L835.6 164.6Z"/><path d="M847 158.1L848.4 159.6L849.1 161.1L848.7 163.1L847 164.1L845.3 163.1L844.9 161.1L845.6 159.6Z"/><path d="M857 154.1L858.4 155.6L859.1 157.1L858.7 159.1L857 160.1L855.3 159.1L854.9 157.1L855.6 155.6Z"/><path d="M867 153.1L868.4 154.6L869.1 156.1L868.7 158.1L867 159.1L865.3 158.1L864.9 156.1L865.6 154.6Z"/><path d="M877 157.1L878.4 158.6L879.1 160.1L878.7 162.1L877 163.1L875.3 162.1L874.9 160.1L875.6 158.6Z"/><path d="M888 166.1L889.4 167.6L890.1 169.1L889.7 171.1L888 172.1L886.3 171.1L885.9 169.1L886.6 167.6Z"/><path d="M898 178.1L899.4 179.6L900.1 181.1L899.7 183.1L898 184.1L896.3 183.1L895.9 181.1L896.6 179.6Z"/><path d="M908 192.1L909.4 193.6L910.1 195.1L909.7 197.1L908 198.1L906.3 197.1L905.9 195.1L906.6 193.6Z"/><path d="M918 210.1L919.4 211.6L920.1 213.1L919.7 215.1L918 216.1L916.3 215.1L915.9 213.1L916.6 211.6Z"/><path d="M928 229.1L929.4 230.6L930.1 232.1L929.7 234.1L928 235.1L926.3 234.1L925.9 232.1L926.6 230.6Z"/><path d="M939 251.1L940.4 252.6L941.1 254.1L940.7 256.1L939 257.1L937.3 256.1L936.9 254.1L937.6 252.6Z"/><path d="M949 274.1L950.4 275.6L951.1 277.1L950.7 279.1L949 280.1L947.3 279.1L946.9 277.1L947.6 275.6Z"/><path d="M959 300.1L960.4 301.6L961.1 303.1L960.7 305.1L959 306.1L957.3 305.1L956.9 303.1L957.6 301.6Z"/><path d="M969 328.1L970.4 329.6L971.1 331.1L970.7 333.1L969 334.1L967.3 333.1L966.9 331.1L967.6 329.6Z"/><path d="M979 357.1L980.4 358.6L981.1 360.1L980.7 362.1L979 363.1L977.3 362.1L976.9 360.1L977.6 358.6Z"/><path d="M990 387.1L991.4 388.6L992.1 390.1L991.7 392.1L990 393.1L988.3 392.1L987.9 390.1L988.6 388.6Z"/><path d="M1000 422.1L1001.4 423.6L1002.1 425.1L1001.7 427.1L1000 428.1L998.3 427.1L997.9 425.1L998.6 423.6Z"/><path d="M1010 457.1L1011.4 458.6L1012.1 460.1L1011.7 462.1L1010 463.1L1008.3 462.1L1007.9 460.1L1008.6 458.6Z"/><path d="M1020 494.1L1021.4 495.6L1022.1 497.1L1021.7 499.1L1020 500.1L1018.3 499.1L1017.9 497.1L1018.6 495.6Z"/><path d="M1031 533.1L1032.4 534.6L1033.1 536.1L1032.7 538.1L1031 539.1L1029.3 538.1L1028.9 536.1L1029.6 534.6Z"/><path d="M1041 572.1L1042.4 573.6L1043.1 575.1L1042.7 577.1L1041 578.1L1039.3 577.1L1038.9 575.1L1039.6 573.6Z"/><path d="M1051 617.1L1052.4 618.6L1053.1 620.1L1052.7 622.1L1051 623.1L1049.3 622.1L1048.9 620.1L1049.6 618.6Z"/><path d="M1061 662.1L1062.4 663.6L1063.1 665.1L1062.7 667.1L1061 668.1L1059.3 667.1L1058.9 665.1L1059.6 663.6Z"/><path d="M1071 713.1L1072.4 714.6L1073.1 716.1L1072.7 718.1L1071 719.1L1069.3 718.1L1068.9 716.1L1069.6 714.6Z"/><path d="M1082 754.1L1083.4 755.6L1084.1 757.1L1083.7 759.1L1082 760.1L1080.3 759.1L1079.9 757.1L1080.6 755.6Z"/><path d="M1092 799.1L1093.4 800.6L1094.1 802.1L1093.7 804.1L1092 805.1L1090.3 804.1L1089.9 802.1L1090.6 800.6Z"/><path d="M1102 871.1L1103.4 872.6L1104.1 874.1L1103.7 876.1L1102 877.1L1100.3 876.1L1099.9 874.1L1100.6 872.6Z"/></g>
<path d="M127 877.5H130M135 877.5H138M132.5 838.2V896.4M178 877.5H181M186 877.5H189M183.5 838.2V896.4M199 877.5H202M207 877.5H210M204.5 838.2V896.4M209 847.5H212M217 847.5H220M214.5 814.1V896.4M219 877.5H222M227 877.5H230M224.5 838.2V896.4M229 877.5H232M237 877.5H240M234.5 838.2V896.4M239 810.5H242M247 810.5H251M244.5 782.9V853.6M250 810.5H253M258 810.5H261M255.5 782.9V853.6M260 746.5H263M268 746.5H271M265.5 726.1V771.3M270 810.5H273M278 810.5H281M275.5 782.9V853.6M280 767.5H283M288 767.5H291M285.5 746.2V797.8M290 730.5H294M299 730.5H302M296.5 713.1V752.6M301 746.5H304M309 746.5H312M306.5 727.1V771.3M311 697.5H314M319 697.5H322M316.5 684.7V716.5M321 687.5H324M329 687.5H332M326.5 674.3V700.5M331 662.5H334M339 662.5H342M336.5 651V675.3M341 666.5H345M350 666.5H353M347.5 655V679.3M352 653.5H355M360 653.5H363M357.5 642V665.7M362 626.5H365M370 626.5H373M367.5 617.1V636.5M372 607.5H375M380 607.5H383M377.5 599V615.5M382 601.5H385M390 601.5H394M387.5 594V610.4M393 588.5H396M401 588.5H404M398.5 580.9V595.8M403 577.5H406M411 577.5H414M408.5 570.9V584.3M413 562.5H416M421 562.5H424M418.5 556.2V568.7M423 561.5H426M431 561.5H434M428.5 554.8V567.7M433 546.5H436M441 546.5H445M438.5 540.9V552.9M444 525.5H447M452 525.5H455M449.5 520.5V530.5M454 513.5H457M462 513.5H465M459.5 508.8V518M464 494.5H467M472 494.5H475M469.5 490.2V498.6M474 496.5H477M482 496.5H485M479.5 492.2V500.6M484 484.5H487M492 484.5H496M489.5 480.3V488.2M495 474.5H498M503 474.5H506M505 462.5H508M513 462.5H516M515 452.5H518M523 452.5H526M525 439.5H528M533 439.5H536M535 430.5H539M544 430.5H547M546 418.5H549M554 418.5H557M556 401.5H559M564 401.5H567M566 394.5H569M574 394.5H577M576 389.5H579M584 389.5H587M586 374.5H590M595 374.5H598M597 362.5H600M605 362.5H608M607 355.5H610M615 355.5H618M617 344.5H620M625 344.5H628M627 337.5H630M635 337.5H639M638 328.5H641M646 328.5H649M648 320.5H651M656 320.5H659M658 309.5H661M666 309.5H669M668 301.5H671M676 301.5H679M678 292.5H681M686 292.5H690M689 284.5H692M697 284.5H700M699 279.5H702M707 279.5H710M709 271.5H712M717 271.5H720M719 265.5H722M727 265.5H730M729 259.5H732M737 259.5H741M740 251.5H743M748 251.5H751M750 245.5H753M758 245.5H761M760 237.5H763M768 237.5H771M770 231.5H773M778 231.5H781M780 220.5H784M789 220.5H792M791 209.5H794M799 209.5H802M801 193.5H804M809 193.5H812M811 183.5H814M819 183.5H822M821 176.5H824M829 176.5H832M831 170.5H835M840 170.5H843M842 166.5H845M850 166.5H853M852 163.5H855M860 163.5H863M862 166.5H865M870 166.5H873M872 175.5H875M880 175.5H883M882 190.5H886M891 190.5H894M893 209.5H896M901 209.5H904M903 231.5H906M911 231.5H914M913 255.5H916M921 255.5H924M923 280.5H926M931 280.5H935M934 307.5H937M942 307.5H945M944 331.5H947M952 331.5H955M954 359.5H957M962 359.5H965M964 385.5H967M972 385.5H975M974 411.5H977M982 411.5H986M985 440.5H988M993 440.5H996M995 479.5H998M1003 479.5H1006M1000.5 475.3V483.5M1005 504.5H1008M1013 504.5H1016M1010.5 500V509M1015 539.5H1018M1023 539.5H1026M1020.5 534V545M1025 578.5H1029M1034 578.5H1037M1031.5 571.9V586.9M1036 613.5H1039M1044 613.5H1047M1041.5 605V622.5M1046 658.5H1049M1054 658.5H1057M1051.5 647.2V671.7M1056 672.5H1059M1064 672.5H1067M1061.5 660.2V686.7M1066 708.5H1069M1074 708.5H1077M1071.5 693.8V727.7M1076 759.5H1080M1085 759.5H1088M1082.5 739.2V787.8M1087 785.5H1090M1095 785.5H1098M1092.5 762.2V820.9M1097 759.5H1100M1105 759.5H1108M1102.5 739.2V787.8" stroke="#0000ff" stroke-width="1" fill="none"/><g fill="#0000ff"><path d="M132.5 873.8L134.9 875L136.2 877.5L134.9 880L132.5 881.2L130.1 880L128.8 877.5L130.1 875Z"/><path d="M183.5 873.8L185.9 875L187.2 877.5L185.9 880L183.5 881.2L181.1 880L179.8 877.5L181.1 875Z"/><path d="M204.5 873.8L206.9 875L208.2 877.5L206.9 880L204.5 881.2L202.1 880L200.8 877.5L202.1 875Z"/><path d="M214.5 843.8L216.9 845L218.2 847.5L216.9 850L214.5 851.2L212.1 850L210.8 847.5L212.1 845Z"/><path d="M224.5 873.8L226.9 875L228.2 877.5L226.9 880L224.5 881.2L222.1 880L220.8 877.5L222.1 875Z"/><path d="M234.5 873.8L236.9 875L238.2 877.5L236.9 880L234.5 881.2L232.1 880L230.8 877.5L232.1 875Z"/><path d="M244.5 806.8L246.9 808L248.2 810.5L246.9 813L244.5 814.2L242.1 813L240.8 810.5L242.1 808Z"/><path d="M255.5 806.8L257.9 808L259.2 810.5L257.9 813L255.5 814.2L253.1 813L251.8 810.5L253.1 808Z"/><path d="M265.5 742.8L267.9 744L269.2 746.5L267.9 749L265.5 750.2L263.1 749L261.8 746.5L263.1 744Z"/><path d="M275.5 806.8L277.9 808L279.2 810.5L277.9 813L275.5 814.2L273.1 813L271.8 810.5L273.1 808Z"/><path d="M285.5 763.8L287.9 765L289.2 767.5L287.9 770L285.5 771.2L283.1 770L281.8 767.5L283.1 765Z"/><path d="M296.5 726.8L298.9 728L300.2 730.5L298.9 733L296.5 734.2L294.1 733L292.8 730.5L294.1 728Z"/><path d="M306.5 742.8L308.9 744L310.2 746.5L308.9 749L306.5 750.2L304.1 749L302.8 746.5L304.1 744Z"/><path d="M316.5 693.8L318.9 695L320.2 697.5L318.9 700L316.5 701.2L314.1 700L312.8 697.5L314.1 695Z"/><path d="M326.5 683.8L328.9 685L330.2 687.5L328.9 690L326.5 691.2L324.1 690L322.8 687.5L324.1 685Z"/><path d="M336.5 658.8L338.9 660L340.2 662.5L338.9 665L336.5 666.2L334.1 665L332.8 662.5L334.1 660Z"/><path d="M347.5 662.8L349.9 664L351.2 666.5L349.9 669L347.5 670.2L345.1 669L343.8 666.5L345.1 664Z"/><path d="M357.5 649.8L359.9 651L361.2 653.5L359.9 656L357.5 657.2L355.1 656L353.8 653.5L355.1 651Z"/><path d="M367.5 622.8L369.9 624L371.2 626.5L369.9 629L367.5 630.2L365.1 629L363.8 626.5L365.1 624Z"/><path d="M377.5 603.8L379.9 605L381.2 607.5L379.9 610L377.5 611.2L375.1 610L373.8 607.5L375.1 605Z"/><path d="M387.5 597.8L389.9 599L391.2 601.5L389.9 604L387.5 605.2L385.1 604L383.8 601.5L385.1 599Z"/><path d="M398.5 584.8L400.9 586L402.2 588.5L400.9 591L398.5 592.2L396.1 591L394.8 588.5L396.1 586Z"/><path d="M408.5 573.8L410.9 575L412.2 577.5L410.9 580L408.5 581.2L406.1 580L404.8 577.5L406.1 575Z"/><path d="M418.5 558.8L420.9 560L422.2 562.5L420.9 565L418.5 566.2L416.1 565L414.8 562.5L416.1 560Z"/><path d="M428.5 557.8L430.9 559L432.2 561.5L430.9 564L428.5 565.2L426.1 564L424.8 561.5L426.1 559Z"/><path d="M438.5 542.8L440.9 544L442.2 546.5L440.9 549L438.5 550.2L436.1 549L434.8 546.5L436.1 544Z"/><path d="M449.5 521.8L451.9 523L453.2 525.5L451.9 528L449.5 529.2L447.1 528L445.8 525.5L447.1 523Z"/><path d="M459.5 509.8L461.9 511.1L463.2 513.5L461.9 516L459.5 517.2L457.1 516L455.8 513.5L457.1 511.1Z"/><path d="M469.5 490.8L471.9 492.1L473.2 494.5L471.9 496.9L469.5 498.2L467.1 496.9L465.8 494.5L467.1 492.1Z"/><path d="M479.5 492.8L481.9 494.1L483.2 496.5L481.9 498.9L479.5 500.2L477.1 498.9L475.8 496.5L477.1 494.1Z"/><path d="M489.5 480.8L491.9 482.1L493.2 484.5L491.9 486.9L489.5 488.2L487.1 486.9L485.8 484.5L487.1 482.1Z"/><path d="M500.5 470.8L502.9 472.1L504.2 474.5L502.9 476.9L500.5 478.2L498.1 476.9L496.8 474.5L498.1 472.1Z"/><path d="M510.5 458.8L513 460.1L514.2 462.5L513 464.9L510.5 466.2L508.1 464.9L506.8 462.5L508.1 460.1Z"/><path d="M520.5 448.8L523 450.1L524.2 452.5L523 454.9L520.5 456.2L518 454.9L516.8 452.5L518 450.1Z"/><path d="M530.5 435.8L533 437.1L534.2 439.5L533 441.9L530.5 443.2L528 441.9L526.8 439.5L528 437.1Z"/><path d="M541.5 426.8L544 428.1L545.2 430.5L544 432.9L541.5 434.2L539 432.9L537.8 430.5L539 428.1Z"/><path d="M551.5 414.8L554 416.1L555.2 418.5L554 420.9L551.5 422.2L549 420.9L547.8 418.5L549 416.1Z"/><path d="M561.5 397.8L564 399.1L565.2 401.5L564 403.9L561.5 405.2L559 403.9L557.8 401.5L559 399.1Z"/><path d="M571.5 390.8L574 392.1L575.2 394.5L574 396.9L571.5 398.2L569 396.9L567.8 394.5L569 392.1Z"/><path d="M581.5 385.8L584 387.1L585.2 389.5L584 391.9L581.5 393.2L579 391.9L577.8 389.5L579 387.1Z"/><path d="M592.5 370.8L595 372.1L596.2 374.5L595 376.9L592.5 378.2L590 376.9L588.8 374.5L590 372.1Z"/><path d="M602.5 358.8L605 360.1L606.2 362.5L605 364.9L602.5 366.2L600 364.9L598.8 362.5L600 360.1Z"/><path d="M612.5 351.8L615 353.1L616.2 355.5L615 357.9L612.5 359.2L610 357.9L608.8 355.5L610 353.1Z"/><path d="M622.5 340.8L625 342.1L626.2 344.5L625 346.9L622.5 348.2L620 346.9L618.8 344.5L620 342.1Z"/><path d="M632.5 333.8L635 335.1L636.2 337.5L635 339.9L632.5 341.2L630 339.9L628.8 337.5L630 335.1Z"/><path d="M643.5 324.8L646 326.1L647.2 328.5L646 330.9L643.5 332.2L641 330.9L639.8 328.5L641 326.1Z"/><path d="M653.5 316.8L656 318.1L657.2 320.5L656 322.9L653.5 324.2L651 322.9L649.8 320.5L651 318.1Z"/><path d="M663.5 305.8L666 307.1L667.2 309.5L666 311.9L663.5 313.2L661 311.9L659.8 309.5L661 307.1Z"/><path d="M673.5 297.8L676 299.1L677.2 301.5L676 303.9L673.5 305.2L671 303.9L669.8 301.5L671 299.1Z"/><path d="M683.5 288.8L686 290.1L687.2 292.5L686 294.9L683.5 296.2L681 294.9L679.8 292.5L681 290.1Z"/><path d="M694.5 280.8L697 282.1L698.2 284.5L697 286.9L694.5 288.2L692 286.9L690.8 284.5L692 282.1Z"/><path d="M704.5 275.8L707 277.1L708.2 279.5L707 281.9L704.5 283.2L702 281.9L700.8 279.5L702 277.1Z"/><path d="M714.5 267.8L717 269.1L718.2 271.5L717 273.9L714.5 275.2L712 273.9L710.8 271.5L712 269.1Z"/><path d="M724.5 261.8L727 263.1L728.2 265.5L727 267.9L724.5 269.2L722 267.9L720.8 265.5L722 263.1Z"/><path d="M734.5 255.8L737 257.1L738.2 259.5L737 261.9L734.5 263.2L732 261.9L730.8 259.5L732 257.1Z"/><path d="M745.5 247.8L748 249.1L749.2 251.5L748 253.9L745.5 255.2L743 253.9L741.8 251.5L743 249.1Z"/><path d="M755.5 241.8L758 243.1L759.2 245.5L758 247.9L755.5 249.2L753 247.9L751.8 245.5L753 243.1Z"/><path d="M765.5 233.8L768 235.1L769.2 237.5L768 239.9L765.5 241.2L763 239.9L761.8 237.5L763 235.1Z"/><path d="M775.5 227.8L778 229.1L779.2 231.5L778 233.9L775.5 235.2L773 233.9L771.8 231.5L773 229.1Z"/><path d="M786.5 216.8L789 218.1L790.2 220.5L789 222.9L786.5 224.2L784 222.9L782.8 220.5L784 218.1Z"/><path d="M796.5 205.8L799 207.1L800.2 209.5L799 211.9L796.5 213.2L794 211.9L792.8 209.5L794 207.1Z"/><path d="M806.5 189.8L809 191.1L810.2 193.5L809 195.9L806.5 197.2L804 195.9L802.8 193.5L804 191.1Z"/><path d="M816.5 179.8L819 181.1L820.2 183.5L819 185.9L816.5 187.2L814 185.9L812.8 183.5L814 181.1Z"/><path d="M826.5 172.8L829 174.1L830.2 176.5L829 178.9L826.5 180.2L824 178.9L822.8 176.5L824 174.1Z"/><path d="M837.5 166.8L840 168.1L841.2 170.5L840 172.9L837.5 174.2L835 172.9L833.8 170.5L835 168.1Z"/><path d="M847.5 162.8L850 164.1L851.2 166.5L850 168.9L847.5 170.2L845 168.9L843.8 166.5L845 164.1Z"/><path d="M857.5 159.8L860 161.1L861.2 163.5L860 165.9L857.5 167.2L855 165.9L853.8 163.5L855 161.1Z"/><path d="M867.5 162.8L870 164.1L871.2 166.5L870 168.9L867.5 170.2L865 168.9L863.8 166.5L865 164.1Z"/><path d="M877.5 171.8L880 173.1L881.2 175.5L880 177.9L877.5 179.2L875 177.9L873.8 175.5L875 173.1Z"/><path d="M888.5 186.8L891 188.1L892.2 190.5L891 192.9L888.5 194.2L886 192.9L884.8 190.5L886 188.1Z"/><path d="M898.5 205.8L901 207.1L902.2 209.5L901 211.9L898.5 213.2L896 211.9L894.8 209.5L896 207.1Z"/><path d="M908.5 227.8L911 229.1L912.2 231.5L911 233.9L908.5 235.2L906 233.9L904.8 231.5L906 229.1Z"/><path d="M918.5 251.8L921 253.1L922.2 255.5L921 257.9L918.5 259.2L916 257.9L914.8 255.5L916 253.1Z"/><path d="M928.5 276.8L931 278.1L932.2 280.5L931 282.9L928.5 284.2L926 282.9L924.8 280.5L926 278.1Z"/><path d="M939.5 303.8L942 305.1L943.2 307.5L942 309.9L939.5 311.2L937 309.9L935.8 307.5L937 305.1Z"/><path d="M949.5 327.8L952 329.1L953.2 331.5L952 333.9L949.5 335.2L947 333.9L945.8 331.5L947 329.1Z"/><path d="M959.5 355.8L962 357.1L963.2 359.5L962 361.9L959.5 363.2L957 361.9L955.8 359.5L957 357.1Z"/><path d="M969.5 381.8L972 383.1L973.2 385.5L972 387.9L969.5 389.2L967 387.9L965.8 385.5L967 383.1Z"/><path d="M979.5 407.8L982 409.1L983.2 411.5L982 413.9L979.5 415.2L977 413.9L975.8 411.5L977 409.1Z"/><path d="M990.5 436.8L993 438.1L994.2 440.5L993 442.9L990.5 444.2L988 442.9L986.8 440.5L988 438.1Z"/><path d="M1000.5 475.8L1003 477.1L1004.2 479.5L1003 481.9L1000.5 483.2L998 481.9L996.8 479.5L998 477.1Z"/><path d="M1010.5 500.8L1013 502.1L1014.2 504.5L1013 506.9L1010.5 508.2L1008 506.9L1006.8 504.5L1008 502.1Z"/><path d="M1020.5 535.8L1023 537L1024.2 539.5L1023 542L1020.5 543.2L1018 542L1016.8 539.5L1018 537Z"/><path d="M1031.5 574.8L1034 576L1035.2 578.5L1034 581L1031.5 582.2L1029 581L1027.8 578.5L1029 576Z"/><path d="M1041.5 609.8L1044 611L1045.2 613.5L1044 616L1041.5 617.2L1039 616L1037.8 613.5L1039 611Z"/><path d="M1051.5 654.8L1054 656L1055.2 658.5L1054 661L1051.5 662.2L1049 661L1047.8 658.5L1049 656Z"/><path d="M1061.5 668.8L1064 670L1065.2 672.5L1064 675L1061.5 676.2L1059 675L1057.8 672.5L1059 670Z"/><path d="M1071.5 704.8L1074 706L1075.2 708.5L1074 711L1071.5 712.2L1069 711L1067.8 708.5L1069 706Z"/><path d="M1082.5 755.8L1085 757L1086.2 759.5L1085 762L1082.5 763.2L1080 762L1078.8 759.5L1080 757Z"/><path d="M1092.5 781.8L1095 783L1096.2 785.5L1095 788L1092.5 789.2L1090 788L1088.8 785.5L1090 783Z"/><path d="M1102.5 755.8L1105 757L1106.2 759.5L1105 762L1102.5 763.2L1100 762L1098.8 759.5L1100 757Z"/></g>
</g>
<path d="M683 105H686V252H599V249H683Z" fill="#000"/>
<rect x="593.5" y="99.5" width="89" height="149" fill="#fff" stroke="#000" stroke-width="1"/>
<g fill="#ff0000"><path d="M595.5 114.6H601.3L598.4 109.3Z"/></g>
<text x="604" y="117.1" font-size="19.2">Electron</text>
<g fill="#0000ff"><path d="M598.9 133.3L601.4 134.6L602.6 137L601.4 139.4L598.9 140.7L596.4 139.4L595.2 137L596.4 134.6Z"/></g>
<text x="604" y="142" font-size="19.2">Muon</text>
<g fill="#009900"><path d="M594.7 157.6H601.6L598.1 164.6Z"/></g>
<text x="604" y="166.9" font-size="19.2">Pion</text>
<g fill="#990099"><rect x="595.1" y="182.4" width="5.9" height="5.7"/></g>
<text x="604" y="191.8" font-size="19.2">Kaon</text>
<g fill="#66cccc"><path d="M597.1 207.3h2.8v2.1h2.2v3.4h-2.2v1.4h-2.8v-1.4h-1.9v-3.4h1.9Z"/></g>
<text x="604" y="216.7" font-size="19.2">Proton</text>
<g fill="#000000"><path d="M598.4 233.2L599.8 234.7L600.5 236.2L600.1 238.2L598.4 239.2L596.7 238.2L596.3 236.2L597 234.7Z"/></g>
<text x="604" y="241.6" font-size="19.2">Ghost</text>
<text x="155.7" y="935.3" font-size="29.1" text-anchor="middle"><tspan font-weight="normal" dy="2">−</tspan><tspan dy="-2">120</tspan></text>
<text x="264.0" y="935.3" font-size="29.1" text-anchor="middle"><tspan font-weight="normal" dy="2">−</tspan><tspan dy="-2">100</tspan></text>
<text x="372.4" y="935.3" font-size="29.1" text-anchor="middle"><tspan font-weight="normal" dy="2">−</tspan><tspan dy="-2">80</tspan></text>
<text x="480.7" y="935.3" font-size="29.1" text-anchor="middle"><tspan font-weight="normal" dy="2">−</tspan><tspan dy="-2">60</tspan></text>
<text x="589.0" y="935.3" font-size="29.1" text-anchor="middle"><tspan font-weight="normal" dy="2">−</tspan><tspan dy="-2">40</tspan></text>
<text x="697.4" y="935.3" font-size="29.1" text-anchor="middle"><tspan font-weight="normal" dy="2">−</tspan><tspan dy="-2">20</tspan></text>
<text x="805.7" y="935.3" font-size="29.1" text-anchor="middle">0</text>
<text x="914.0" y="935.3" font-size="29.1" text-anchor="middle">20</text>
<text x="1022.4" y="935.3" font-size="29.1" text-anchor="middle">40</text>
<text x="1130.7" y="935.3" font-size="29.1" text-anchor="middle">60</text>
<text x="748.2" y="973.9" font-size="28.6" textLength="398.3" lengthAdjust="spacingAndGlyphs">Downstream Muon RichDLLbt</text>
<text x="68.3" y="822.5" font-size="29.1">10</text><text x="99.6" y="809.8" font-size="19.5"><tspan font-weight="normal" dy="1.5">−</tspan><tspan dy="-1.5">5</tspan></text>
<text x="68.3" y="654.5" font-size="29.1">10</text><text x="99.6" y="641.8" font-size="19.5"><tspan font-weight="normal" dy="1.5">−</tspan><tspan dy="-1.5">4</tspan></text>
<text x="68.3" y="486.5" font-size="29.1">10</text><text x="99.6" y="473.8" font-size="19.5"><tspan font-weight="normal" dy="1.5">−</tspan><tspan dy="-1.5">3</tspan></text>
<text x="68.3" y="318.5" font-size="29.1">10</text><text x="99.6" y="305.8" font-size="19.5"><tspan font-weight="normal" dy="1.5">−</tspan><tspan dy="-1.5">2</tspan></text>
<text x="68.3" y="149.5" font-size="29.1">10</text><text x="99.6" y="136.8" font-size="19.5"><tspan font-weight="normal" dy="1.5">−</tspan><tspan dy="-1.5">1</tspan></text>
</svg></body></html>
